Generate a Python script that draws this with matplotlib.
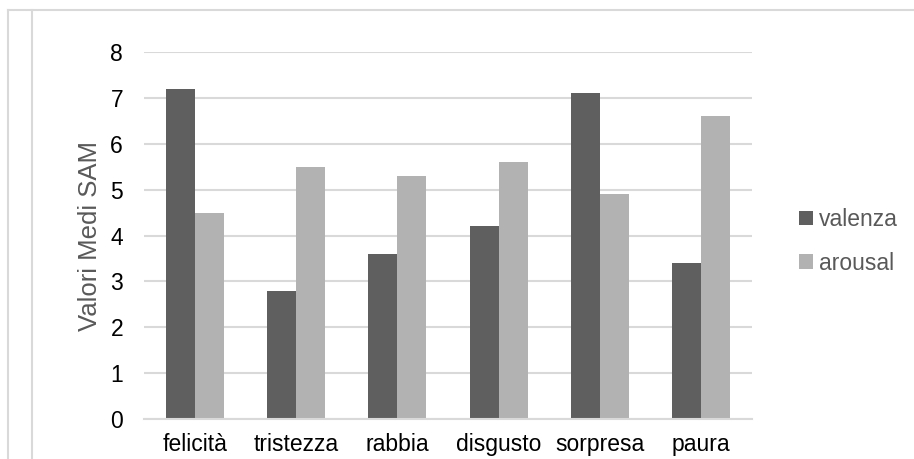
import numpy as np
import matplotlib
matplotlib.use("Agg")
from matplotlib import pyplot as plt
from matplotlib.lines import Line2D

emozioni = ["felicità", "tristezza", "rabbia", "disgusto", "sorpresa", "paura"]
valenza = [7.2, 2.8, 3.6, 4.2, 7.1, 3.4]
arousal = [4.5, 5.5, 5.3, 5.6, 4.9, 6.6]
y_ticks = [0, 1, 2, 3, 4, 5, 6, 7, 8]

plt.rcParams['font.family'] = ['Liberation Sans', 'DejaVu Sans']

fig = plt.figure(figsize=(9.14, 4.59), dpi=100)
ax = fig.add_axes([0.1575, 0.0871, 0.6653, 0.7996])

x = np.arange(len(emozioni))
w = 0.286
ax.bar(x - w / 2, valenza, w, color="#5f5f5f", label="valenza", zorder=3)
ax.bar(x + w / 2, arousal, w, color="#b2b2b2", label="arousal", zorder=3)

ax.set_xlim(-0.5, len(emozioni) - 0.5)
ax.set_ylim(0, 8)
ax.set_yticks(y_ticks)
ax.set_xticks(x)
ax.set_xticklabels(emozioni, fontsize=16.5)
ax.tick_params(axis='y', labelsize=16.5, length=0, pad=15)
ax.tick_params(axis='x', length=0, pad=10)
ax.yaxis.grid(True, color="#d9d9d9", lw=1.5, zorder=0)
for s in ["top", "right", "left"]:
    ax.spines[s].set_visible(False)
ax.spines["bottom"].set_color("#d9d9d9")
ax.spines["bottom"].set_linewidth(1.5)
ax.spines["bottom"].set_zorder(4)

ax.set_ylabel("Valori Medi SAM", fontsize=18.5, color="#595959", labelpad=6)

leg = fig.legend(loc="upper left", bbox_to_anchor=(0.852, 0.592), frameon=False,
                 fontsize=16.5, handlelength=0.6, handleheight=0.6,
                 handletextpad=0.25, labelspacing=0.9, labelcolor="#595959")

# cornice
top_y = 1 - 10 / 459
fig.add_artist(Line2D([8 / 914, 1], [top_y, top_y], color="#d9d9d9", lw=1.5))
fig.add_artist(Line2D([8 / 914, 8 / 914], [0, top_y], color="#d9d9d9", lw=1.5))
fig.add_artist(Line2D([32 / 914, 32 / 914], [0, top_y], color="#d9d9d9", lw=1.5))

fig.savefig("out.png", dpi=100, facecolor="white")
